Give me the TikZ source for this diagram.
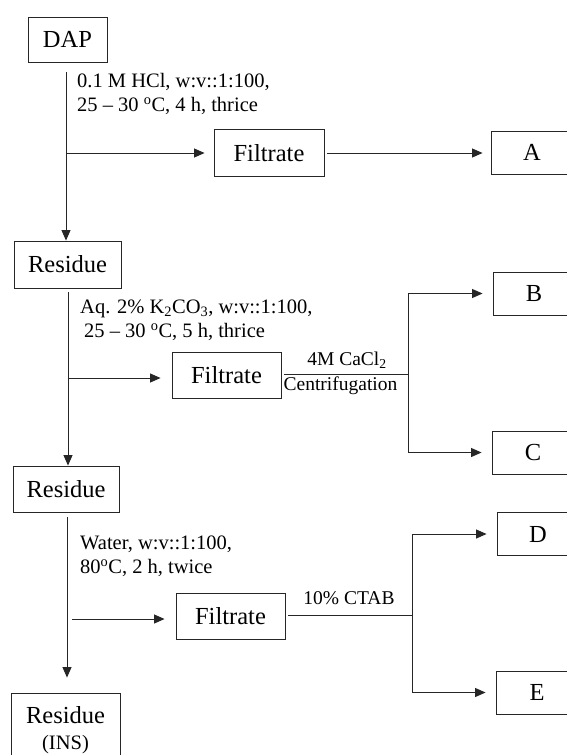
\documentclass[tikz,border=0pt]{standalone}
\usepackage{fontspec}
\setmainfont{Liberation Serif}
\usetikzlibrary{arrows.meta}
\tikzset{
  box/.style={draw=black!85, line width=0.9pt, inner sep=0pt, font=\fontsize{24.5}{29}\selectfont},
  endbox/.style={box, minimum width=82pt, minimum height=43pt},
  arr/.style={draw=black!85, line width=1pt, -{Triangle[length=10.5pt,width=9pt]}},
  ln/.style={draw=black!85, line width=1pt},
  cond/.style={inner sep=0pt, align=left, anchor=west, font=\fontsize{20.5}{24}\selectfont},
  lab/.style={inner sep=0pt, font=\fontsize{19.5}{22}\selectfont},
}
\begin{document}
\begin{tikzpicture}[x=1pt,y=-1pt]
\clip (0,0) rectangle (567,755);
\fill[white] (0,0) rectangle (567,755);

% boxes
\node[box, minimum width=79pt, minimum height=45pt] (dap) at (67.5,39.5) {DAP};
\node[box, minimum width=110pt, minimum height=47pt] (fil1) at (269,153) {Filtrate};
\node[endbox] (A) at (532,152.5) {A};
\node[box, minimum width=107pt, minimum height=47pt] (res1) at (67.5,264.5) {Residue};
\node[box, minimum width=109pt, minimum height=46pt] (fil2) at (226.5,375) {Filtrate};
\node[endbox] (B) at (534,293.5) {B};
\node[endbox] (C) at (533,452.5) {C};
\node[box, minimum width=106pt, minimum height=46pt] (res2) at (66,489) {Residue};
\node[box, minimum width=109pt, minimum height=46pt] (fil3) at (230.5,616) {Filtrate};
\node[endbox] (D) at (538,534) {D};
\node[endbox] (E) at (537,692.5) {E};
\node[box, minimum width=109pt, minimum height=74pt, align=center] (res3) at (65.5,730)
  {Residue\\[-3pt]{\fontsize{20.5}{22}\selectfont (INS)}};

% conditions
\node[cond] (c1) at (77,94) {0.1 M HCl, w:v::1:100,\\25 -- 30 \textsuperscript{o}C, 4 h, thrice};
\node[cond] (c2) at (80,320.5) {Aq. 2\% K\textsubscript{2}CO\textsubscript{3}, w:v::1:100,\\\hspace{4pt}25 -- 30 \textsuperscript{o}C, 5 h, thrice};
\node[cond] (c3) at (80,556.5) {Water, w:v::1:100,\\80\textsuperscript{o}C, 2 h, twice};

% stage 1
\coordinate (v1) at (66,72);
\draw[arr] (v1) -- (v1 |- res1.north);
\coordinate (h1) at (66,153);
\draw[arr, shorten >=9pt] (h1) -- (h1 -| fil1.west);
\draw[arr, shorten <=3pt, shorten >=8pt] (fil1.east) -- (A.west |- fil1.east);

% stage 2
\coordinate (v2) at (68,292);
\draw[arr] (v2) -- (v2 |- res2.north);
\coordinate (h2) at (68,378);
\draw[arr, shorten >=11pt] (h2) -- (h2 -| fil2.west);
\coordinate (b2) at (408,374);
\draw[ln] (fil2.east |- b2) ++(3,0) -- (b2);
\draw[arr, shorten >=10pt] (b2) |- (B.west);
\draw[arr, shorten >=10pt] (b2) |- (C.west);
\node[lab] (l1) at (347,360) {4M CaCl\textsubscript{2}};
\node[lab] (l2) at (340.5,386) {Centrifugation};

% stage 3
\coordinate (v3) at (67,517);
\draw[arr, shorten >=15pt] (v3) -- (v3 |- res3.north);
\coordinate (h3) at (72,619);
\draw[arr, shorten >=11pt] (h3) -- (h3 -| fil3.west);
\coordinate (b3) at (412,615);
\draw[ln] (fil3.east |- b3) ++(3,0) -- (b3);
\draw[arr, shorten >=10pt] (b3) |- (D.west);
\draw[arr, shorten >=10pt] (b3) |- (E.west);
\node[lab] (l3) at (349,598) {10\% CTAB};
\end{tikzpicture}
\end{document}
